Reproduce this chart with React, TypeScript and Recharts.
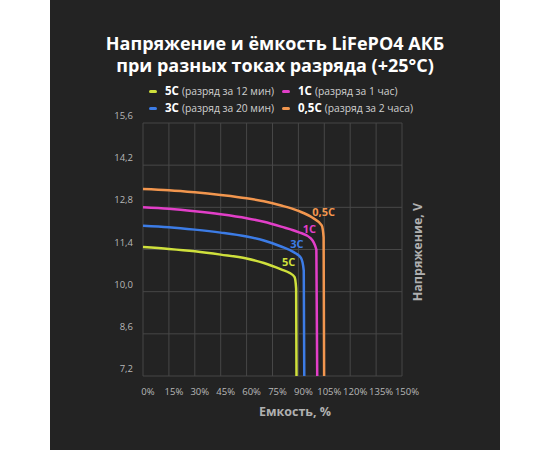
import { LineChart, Line, XAxis, YAxis, CartesianGrid } from "recharts";

// ёмкость, % (ось X)
const capacityTicks = [0, 15, 30, 45, 60, 75, 90, 105, 120, 135, 150];
// напряжение, V (ось Y)
const voltageTicks = [7.2, 8.6, 10.0, 11.4, 12.8, 14.2, 15.6];

// 5C (разряд за 12 мин)
const cap5C = [0, 15, 30, 45, 60, 70, 80, 85, 87.8, 88.7, 88.9];
const volt5C = [11.48, 11.42, 11.34, 11.23, 11.1, 10.95, 10.74, 10.62, 10.48, 10.1, 7.2];
// 3C (разряд за 20 мин)
const cap3C = [0, 15, 30, 45, 60, 70, 80, 87, 91.5, 93.1, 93.4];
const volt3C = [12.19, 12.14, 12.06, 11.96, 11.83, 11.7, 11.5, 11.32, 11.12, 10.7, 7.2];
// 1C (разряд за 1 час)
const cap1C = [0, 15, 30, 45, 60, 70, 80, 90, 97, 100.4, 100.9];
const volt1C = [12.8, 12.75, 12.67, 12.57, 12.44, 12.32, 12.16, 11.98, 11.78, 11.4, 7.2];
// 0,5C (разряд за 2 часа)
const cap05C = [0, 15, 30, 45, 60, 70, 80, 90, 98, 103.5, 104.6, 104.9];
const volt05C = [13.41, 13.37, 13.3, 13.21, 13.1, 13.0, 12.86, 12.68, 12.46, 12.2, 11.8, 7.2];

const series = [
  { key: "5C", name: "5С", desc: "(разряд за 12 мин)", color: "#cfe03c", cap: cap5C, volt: volt5C, knee: 8 },
  { key: "3C", name: "3С", desc: "(разряд за 20 мин)", color: "#3c7ce6", cap: cap3C, volt: volt3C, knee: 8 },
  { key: "1C", name: "1С", desc: "(разряд за 1 час)", color: "#e23fc8", cap: cap1C, volt: volt1C, knee: 8 },
  { key: "05C", name: "0,5С", desc: "(разряд за 2 часа)", color: "#f2964e", cap: cap05C, volt: volt05C, knee: 9 },
];

// смещения подписей у изгиба кривых
const labelOffsets: Record<string, [number, number]> = {
  "5C": [-6, -11],
  "3C": [-4, -10],
  "1C": [-1, -5],
  "05C": [2, -9],
};

const FONT = "'Open Sans', 'Noto Sans', sans-serif";
const fmt = (v: number) => v.toFixed(1).replace(".", ",");

const YTick = (props: any) => {
  const { x, y, payload } = props;
  return (
    <text x={x - 2} y={y - 4} textAnchor="end" fill="#b8b8b8" fontSize={9.5} fontFamily={FONT}>
      {fmt(payload.value)}
    </text>
  );
};

const XTick = (props: any) => {
  const { x, y, payload } = props;
  return (
    <text x={x + 5} y={y + 11} textAnchor="middle" fill="#b8b8b8" fontSize={9.5} fontFamily={FONT}>
      {payload.value}%
    </text>
  );
};

const makeLabel = (s: (typeof series)[number]) => (props: any) => {
  if (props.index !== s.knee) return null;
  const [dx, dy] = labelOffsets[s.key];
  return (
    <text
      x={props.x + dx}
      y={props.y + dy}
      textAnchor="middle"
      fill={s.color}
      fontSize={11}
      fontWeight={700}
      fontFamily={FONT}
    >
      {s.name}
    </text>
  );
};

const legendRows = [
  [series[0], series[2]],
  [series[1], series[3]],
];

const titleStyle = {
  position: "absolute" as const,
  left: 50,
  width: 450,
  textAlign: "center" as const,
  color: "#fff",
  fontWeight: 700,
  fontSize: 18,
  lineHeight: "20px",
  whiteSpace: "nowrap" as const,
};

export default function App() {
  return (
    <div style={{ position: "relative", width: 550, height: 450, background: "#fff", fontFamily: FONT }}>
      <style>{"body{margin:0}"}</style>
      <div style={{ position: "absolute", left: 50, top: 0, width: 450, height: 450, background: "#232323" }} />

      <div style={{ ...titleStyle, top: 33 }}>Напряжение и ёмкость LiFePO4 АКБ</div>
      <div style={{ ...titleStyle, top: 55 }}>при разных токах разряда (+25°С)</div>

      {legendRows.map((row, r) => (
        <div key={r}>
          {row.map((s, c) => (
            <div
              key={s.key}
              style={{
                position: "absolute",
                left: c === 0 ? 149 : 282,
                top: 84 + r * 17,
                display: "flex",
                alignItems: "center",
                whiteSpace: "nowrap",
                lineHeight: "14px",
              }}
            >
              <span
                style={{ display: "inline-block", width: 8, height: 3, borderRadius: 2, background: s.color, marginRight: 8 }}
              />
              <span style={{ color: "#fff", fontWeight: 700, fontSize: 11.5, marginRight: 3 }}>{s.name}</span>
              <span style={{ color: "#d0d0d0", fontSize: 10.3 }}>{s.desc}</span>
            </div>
          ))}
        </div>
      ))}

      <div style={{ position: "absolute", left: 0, top: 0 }}>
        <LineChart width={550} height={450} margin={{ top: 123, right: 148, bottom: 44, left: 103 }}>
          <CartesianGrid stroke="#474747" strokeWidth={1} />
          <XAxis
            type="number"
            dataKey="x"
            domain={[0, 150]}
            ticks={capacityTicks}
            axisLine={false}
            tickLine={false}
            height={30}
            tick={<XTick />}
            interval={0}
          />
          <YAxis
            type="number"
            domain={[7.2, 15.6]}
            ticks={voltageTicks}
            axisLine={false}
            tickLine={false}
            width={40}
            tick={<YTick />}
            interval={0}
          />
          {series.map((s) => (
            <Line
              key={s.key}
              data={s.cap.map((x, i) => ({ x, y: s.volt[i] }))}
              dataKey="y"
              type="monotone"
              stroke={s.color}
              strokeWidth={2.5}
              dot={false}
              isAnimationActive={false}
              label={makeLabel(s)}
            />
          ))}
        </LineChart>
      </div>

      <div
        style={{
          position: "absolute",
          left: 235,
          top: 403,
          width: 120,
          textAlign: "center",
          color: "#b0b0b0",
          fontWeight: 700,
          fontSize: 12.5,
        }}
      >
        Емкость, %
      </div>
      <div
        style={{
          position: "absolute",
          left: 417,
          top: 252,
          transform: "translate(-50%, -50%) rotate(-90deg)",
          color: "#b0b0b0",
          fontWeight: 700,
          fontSize: 12.5,
          whiteSpace: "nowrap",
        }}
      >
        Напряжение, V
      </div>
    </div>
  );
}
